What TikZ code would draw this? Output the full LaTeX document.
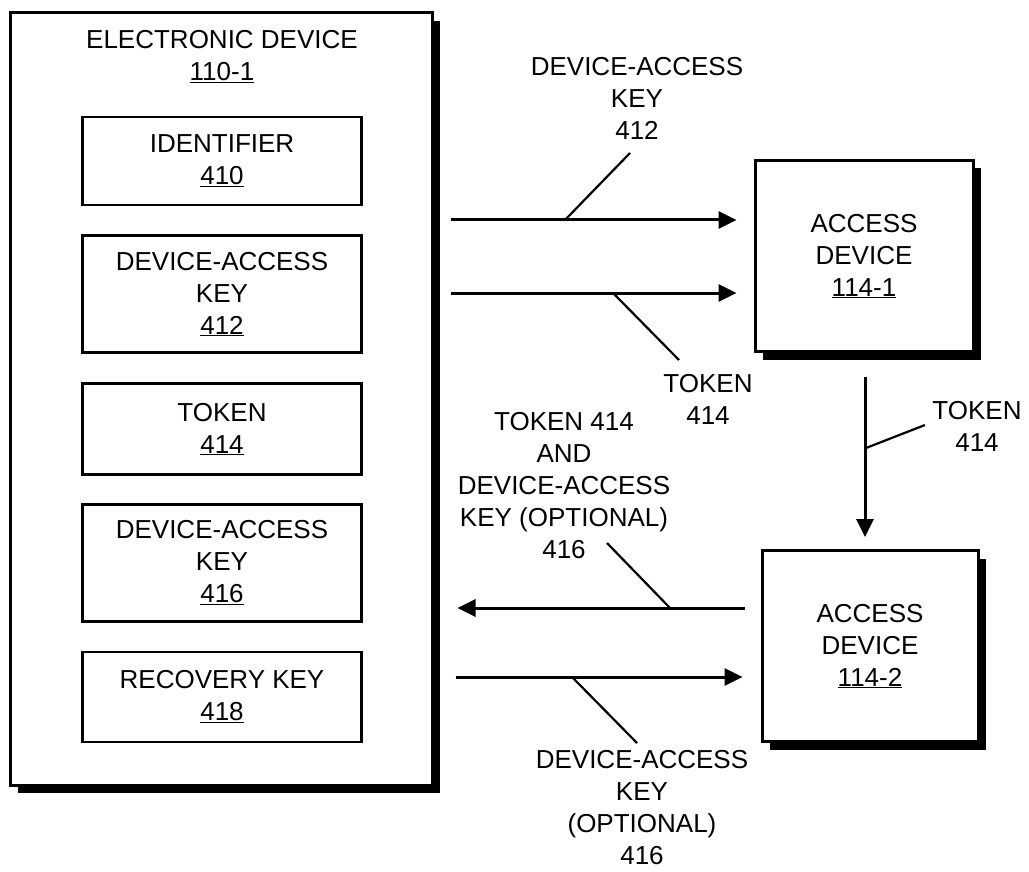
\documentclass[tikz,border=0pt]{standalone}
\usepackage{fontspec}
\setmainfont{Liberation Sans}
\usetikzlibrary{arrows.meta,shadows}
\newcommand{\refno}[1]{\underline{#1}}

\begin{document}
\begin{tikzpicture}[x=1pt,y=-1pt,
  every node/.style={font=\fontsize{26}{32}\selectfont,align=center},
  devbox/.style={draw,line width=3pt,fill=white,
    drop shadow={shadow xshift=8pt,shadow yshift=-8pt,fill=black,opacity=1}},
  keybox/.style={draw,line width=2.5pt,minimum width=279pt,inner sep=0pt},
  flow/.style={line width=3pt,-{Triangle[length=18pt,width=17pt]}},
  leader/.style={line width=2.2pt},
  lbl/.style={inner sep=0pt}]
\useasboundingbox (0,0) rectangle (1029,872);
% electronic device with its contents
\node[devbox,minimum width=422pt,minimum height=772pt] (dev) at (221,399) {};
\node[lbl] (devtitle) at (222,57) {ELECTRONIC DEVICE\\\refno{110-1}};
\node[keybox,minimum height=88pt] (ident) at (222,161) {IDENTIFIER\\\refno{410}};
\node[keybox,minimum height=117pt] (dakA) at (222,294) {DEVICE-ACCESS\\KEY\\\refno{412}};
\node[keybox,minimum height=91pt] (tok) at (222,429) {TOKEN\\\refno{414}};
\node[keybox,minimum height=117pt] (dakB) at (222,563) {DEVICE-ACCESS\\KEY\\\refno{416}};
\node[keybox,minimum height=90pt] (reckey) at (222,697) {RECOVERY KEY\\\refno{418}};
% access devices
\node[devbox,minimum width=218pt,minimum height=191pt] (acc1) at (864,256) {ACCESS\\DEVICE\\\refno{114-1}};
\node[devbox,minimum width=216pt,minimum height=191pt] (acc2) at (870,646) {ACCESS\\DEVICE\\\refno{114-2}};
% labels
\node[lbl] (lbl412) at (637,98) {DEVICE-ACCESS\\KEY\\412};
\node[lbl] (lbl414a) at (708,399) {TOKEN\\414};
\node[lbl] (lbl414b) at (977,426) {TOKEN\\414};
\node[lbl] (lbl416a) at (564,486) {TOKEN 414\\AND\\DEVICE-ACCESS\\KEY (OPTIONAL)\\416};
\node[lbl] (lbl416b) at (642,808) {DEVICE-ACCESS\\KEY\\(OPTIONAL)\\416};
% rows of the arrows
\coordinate (r1) at (0,220);
\coordinate (r2) at (0,293);
\coordinate (r3) at (0,608);
\coordinate (r4) at (0,677);
\coordinate (cv) at (865,0);
\draw[flow,shorten <=17pt,shorten >=17pt] (dev.east |- r1) -- (acc1.west |- r1);
\draw[flow,shorten <=17pt,shorten >=17pt] (dev.east |- r2) -- (acc1.west |- r2);
\draw[flow,shorten <=24pt,shorten >=12pt] (acc1.south -| cv) -- (acc2.north -| cv);
\draw[flow,shorten <=16pt,shorten >=24pt] (acc2.west |- r3) -- (dev.east |- r3);
\draw[flow,shorten <=22pt,shorten >=18pt] (dev.east |- r4) -- (acc2.west |- r4);
% leaders
\coordinate (m1) at (565,220);  \coordinate (t1) at (630,153);
\coordinate (m2) at (613,293);  \coordinate (t2) at (679,360);
\coordinate (m3) at (866,448);  \coordinate (t3) at (925,425);
\coordinate (m4) at (670,608);  \coordinate (t4) at (607,543);
\coordinate (m5) at (572,677);  \coordinate (t5) at (637,743);
\foreach \i in {1,...,5}
  \draw[leader] (m\i) -- (t\i);
\end{tikzpicture}
\end{document}
